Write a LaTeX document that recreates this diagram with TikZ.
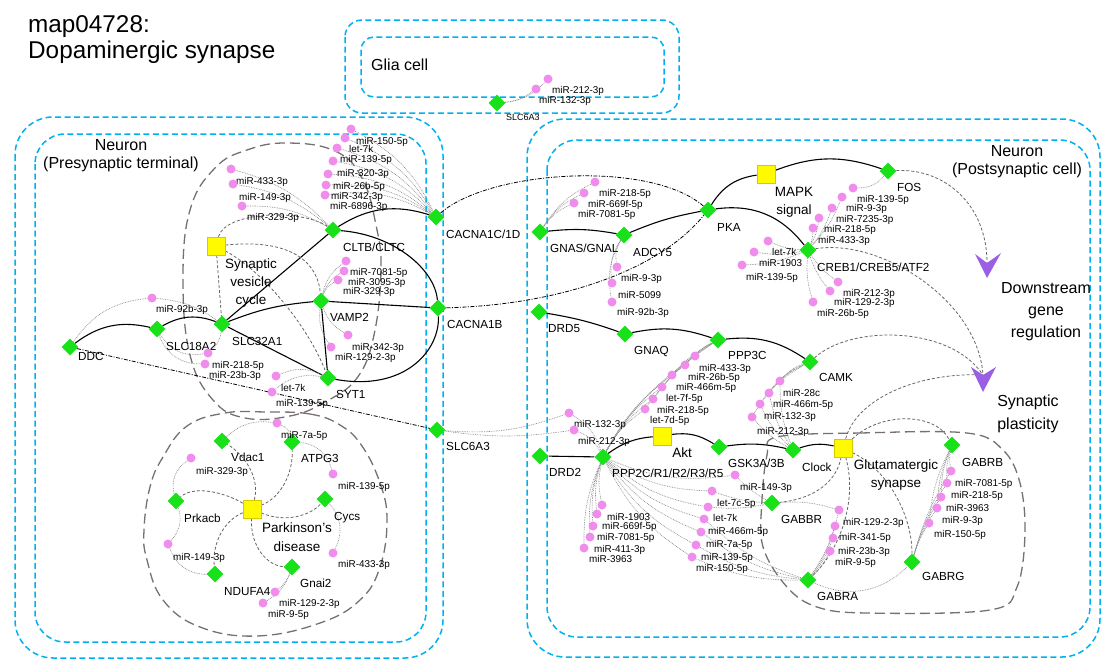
\documentclass[tikz,border=0pt]{standalone}
\usepackage{fontspec}
\setmainfont{Liberation Sans}
\usetikzlibrary{shapes.geometric,calc}
\pgfdeclarelayer{bg}
\pgfsetlayers{bg,main}
\definecolor{cellblue}{RGB}{0,176,240}
\definecolor{genegreen}{RGB}{25,225,25}
\definecolor{mirpink}{RGB}{240,140,235}
\definecolor{sqyellow}{RGB}{255,250,0}
\definecolor{sqedge}{RGB}{215,200,0}
\definecolor{arrpurple}{RGB}{155,95,230}
\definecolor{dotgray}{RGB}{140,140,140}
\definecolor{dashgray}{RGB}{105,100,100}
\definecolor{elgray}{RGB}{120,112,112}
\begin{document}
\begin{tikzpicture}[x=1pt,y=-1pt,
 gene/.style={diamond,fill=genegreen,inner sep=0pt,minimum width=17pt,minimum height=17pt},
 mir/.style={circle,fill=mirpink,inner sep=0pt,minimum size=9pt},
 ysq/.style={rectangle,fill=sqyellow,draw=sqedge,line width=0.6pt,minimum size=18pt,inner sep=0pt},
 glab/.style={font=\fontsize{11.7}{13}\selectfont,inner sep=0pt,anchor=west,text height=8.4pt,text depth=0pt},
 mlab/.style={font=\fontsize{9.9}{11}\selectfont,inner sep=0pt,anchor=west,text height=7pt,text depth=0pt},
 ylab/.style={font=\fontsize{13.5}{18}\selectfont,inner sep=0pt,align=center},
 blab/.style={font=\fontsize{16}{18}\selectfont,inner sep=0pt,align=center},
 ttl/.style={font=\fontsize{24.3}{28}\selectfont,inner sep=0pt,anchor=west,text height=17.4pt,text depth=0pt},
 sol/.style={black,line width=1.1pt},
 ddot/.style={black,line width=0.8pt,dash pattern=on 4pt off 1.5pt on 1pt off 1.5pt},
 gdash/.style={dashgray,line width=0.8pt,dash pattern=on 3pt off 2pt},
 ldash/.style={elgray,line width=1.3pt,dash pattern=on 10pt off 5pt},
 dotl/.style={dotgray,line width=0.65pt,dash pattern=on 0.8pt off 0.9pt},
 cellbox/.style={cellblue,line width=1.5pt,dash pattern=on 6pt off 3.5pt}
]
\useasboundingbox (0,0) rectangle (1101,659);

% ---------- titles and compartment labels
\node[ttl] (title1) at (28,24) {map04728:};
\node[ttl] (title2) at (28,50) {Dopaminergic synapse};
\node[blab,anchor=west,text height=11.5pt,text depth=0pt] (lglia) at (371,65) {Glia cell};
\node[blab] (lpre) at (121,156) {Neuron\\(Presynaptic terminal)};
\node[blab] (lpost) at (1017,162) {Neuron\\(Postsynaptic cell)};
\node[blab,font=\fontsize{16}{22}\selectfont] (ldown) at (1046,312) {Downstream\\gene\\regulation};
\node[blab,font=\fontsize{16}{23}\selectfont] (lsyn) at (1028,414) {Synaptic\\plasticity};

% ---------- gene nodes (left neuron)
\node[gene] (ddc) at (70,347) {};
\node[gene] (slc18a2) at (157,329) {};
\node[gene] (slc32a1) at (222,324) {};
\node[gene] (cltb) at (333,230) {};
\node[gene] (vamp2) at (321,301) {};
\node[gene] (syt1) at (328,378) {};
\node[gene] (cac1d) at (436,217) {};
\node[gene] (cac1b) at (438,308) {};
\node[gene] (slcL) at (437,430) {};
\node[ysq] (svc) at (216,246) {};
\node[ysq] (pd) at (252,509) {};
\node[gene] (vdac1) at (222,441) {};
\node[gene] (atpg3) at (292,442) {};
\node[gene] (prkacb) at (176,501) {};
\node[gene] (cycs) at (325,499) {};
\node[gene] (ndufa4) at (215,574) {};
\node[gene] (gnai2) at (292,567) {};
% glia
\node[gene] (slcG) at (497,103) {};
% right neuron
\node[gene] (gnas) at (540,232) {};
\node[gene] (adcy5) at (624,235) {};
\node[gene] (pka) at (708,210) {};
\node[ysq] (mapk) at (766,174) {};
\node[gene] (fos) at (888,171) {};
\node[gene] (creb) at (808,250) {};
\node[gene] (drd5) at (539,312) {};
\node[gene] (gnaq) at (625,334) {};
\node[gene] (ppp3c) at (718,340) {};
\node[gene] (camk) at (810,362) {};
\node[gene] (drd2) at (540,456) {};
\node[gene] (ppp2c) at (603,457) {};
\node[ysq] (akt) at (662,436) {};
\node[gene] (gsk3) at (719,447) {};
\node[gene] (clock) at (793,450) {};
\node[ysq] (glut) at (843,448) {};
\node[gene] (gabrb) at (952,445) {};
\node[gene] (gabbr) at (772,503) {};
\node[gene] (gabra) at (808,580) {};
\node[gene] (gabrg) at (912,562) {};

% ---------- gene labels
\node[glab] (lddc) at (78,356) {DDC};
\node[glab] (lslc18a2) at (166,346) {SLC18A2};
\node[glab] (lslc32a1) at (232,341) {SLC32A1};
\node[glab] (lcltb) at (343,247) {CLTB/CLTC};
\node[glab] (lvamp2) at (330,317) {VAMP2};
\node[glab] (lsyt1) at (336,394) {SYT1};
\node[glab] (lcac1d) at (446,234) {CACNA1C/1D};
\node[glab] (lcac1b) at (447,324) {CACNA1B};
\node[glab] (lslcL) at (446,446) {SLC6A3};
\node[glab] (lvdac1) at (231,457) {Vdac1};
\node[glab] (latpg3) at (301,458) {ATPG3};
\node[glab] (lprkacb) at (184,518) {Prkacb};
\node[glab] (lcycs) at (334,516) {Cycs};
\node[glab] (lndufa4) at (224,591) {NDUFA4};
\node[glab] (lgnai2) at (300,583) {Gnai2};
\node[glab,font=\fontsize{9}{10}\selectfont,text height=6.5pt] (lslcG) at (506,117) {SLC6A3};
\node[glab] (lgnas) at (550,248) {GNAS/GNAL};
\node[glab] (ladcy5) at (633,252) {ADCY5};
\node[glab] (lpka) at (717,227) {PKA};
\node[glab] (lfos) at (897,187) {FOS};
\node[glab] (lcreb) at (817,267) {CREB1/CREB5/ATF2};
\node[glab] (ldrd5) at (548,328) {DRD5};
\node[glab] (lgnaq) at (634,350) {GNAQ};
\node[glab] (lppp3c) at (728,355) {PPP3C};
\node[glab] (lcamk) at (819,377) {CAMK};
\node[glab] (ldrd2) at (549,472) {DRD2};
\node[glab] (lppp2c) at (612,473) {PPP2C/R1/R2/R3/R5};
\node[glab] (lgsk3) at (728,463) {GSK3A/3B};
\node[glab] (lclock) at (802,467) {Clock};
\node[glab] (lgabrb) at (962,462) {GABRB};
\node[glab] (lgabbr) at (781,519) {GABBR};
\node[glab] (lgabra) at (817,596) {GABRA};
\node[glab] (lgabrg) at (922,576) {GABRG};
% pathway (yellow) labels
\node[ylab] (lsvc) at (251,283) {Synaptic\\vesicle\\cycle};
\node[ylab,font=\fontsize{13.5}{19}\selectfont] (lpd) at (297,537) {Parkinson's\\disease};
\node[ylab] (lmapk) at (794,202) {MAPK\\signal};
\node[ylab] (lakt) at (682,453) {Akt};
\node[ylab] (lglut) at (896,475) {Glutamatergic\\synapse};

% ---------- miRNA nodes
\foreach \n/\cx/\cy/\lx/\ly/\t in {
cA1/351/129/356/141/miR-150-5p, cA2/345/138/349/149/let-7k, cA3/337/148/340/159/miR-139-5p,
cA4/333/161/337/173/miR-320-3p, cA5/328/174/333/186/miR-26b-5p, cA6/326/185/331/196/miR-342-3p,
cA7/325/195/330/206/miR-6896-3p,
cB1/231/169/236/181/miR-433-3p, cB2/233/184/239/197/miR-149-3p, cB3/242/206/247/217/miR-329-3p,
cV1/346/261/350/272/miR-7081-5p, cV2/344/271/348/282/miR-3095-3p, cV3/338/280/343/291/miR-329-3p,
cV4/348/335/352/347/miR-342-3p, cV5/331/347/335/357/miR-129-2-3p,
cS1/276/376/281/388/let-7k, cS2/272/392/276/403/miR-139-5p,
cL1/152/298/156/309/miR-92b-3p, cL2/208/353/212/365/miR-218-5p, cL3/205/364/209/375/miR-23b-3p,
p1/277/423/281/435/miR-7a-5p, p2/191/458/196/471/miR-329-3p, p3/333/474/338/486/miR-139-5p,
p4/333/553/338/564/miR-433-3p, p5/168/544/173/557/miR-149-3p, p6/275/592/279/603/miR-129-2-3p,
p7/263/603/268/614/miR-9-5p,
g1/548/79/552/90/miR-212-3p, g2/536/89/539/100/miR-132-3p,
n1/595/182/599/193/miR-218-5p, n2/584/193/588/204/miR-669f-5p, n3/574/203/578/214/miR-7081-5p,
a1/617/267/621/278/miR-9-3p, a2/612/283/618/295/miR-5099, a3/612/302/617/312/miR-92b-3p,
f1/853/188/857/199/miR-139-5p,
r1/842/197/846/208/miR-9-3p, r2/832/208/836/219/miR-7235-3p, r3/819/218/824/229/miR-218-5p,
r4/813/228/818/240/miR-433-3p, r5/768/241/772/252/let-7k, r6/754/252/759/263/miR-1903,
r7/742/265/746/277/miR-139-5p, r8/838/282/843/293/miR-212-3p, r9/830/291/834/302/miR-129-2-3p,
r10/813/302/817/313/miR-26b-5p,
q1/695/356/699/368/miR-433-3p, q2/685/365/688/377/miR-26b-5p, q3/672/375/676/387/miR-466m-5p,
q4/662/387/666/398/let-7f-5p, q5/653/399/657/410/miR-218-5p, q6/645/409/650/420/let-7d-5p,
s1/569/413/574/424/miR-132-3p, s2/574/430/578/441/miR-212-3p,
k1/780/381/783/393/miR-28c, k2/769/393/773/404/miR-466m-5p, k3/760/404/764/416/miR-132-3p,
k4/752/417/757/431/miR-212-3p,
u1/602/505/607/517/miR-1903, u2/597/514/602/526/miR-669f-5p, u3/593/526/597/537/miR-7081-5p,
u4/590/537/594/549/miR-411-3p, u5/584/548/589/559/miR-3963,
w1/735/475/740/487/miR-149-3p, w2/712/491/717/503/let-7c-5p, w3/708/507/713/518/let-7k,
w4/704/519/708/531/miR-466m-5p, w5/701/532/706/544/miR-7a-5p, w6/696/545/701/557/miR-139-5p,
w7/692/557/696/568/miR-150-5p,
x1/839/510/843/522/miR-129-2-3p, x2/835/526/839/537/miR-341-5p, x3/833/538/838/551/miR-23b-3p,
x4/830/551/835/562/miR-9-5p,
y1/951/471/955/483/miR-7081-5p, y2/947/483/951/495/miR-218-5p, y3/941/497/946/508/miR-3963,
y4/937/508/942/520/miR-9-3p, y5/929/523/934/534/miR-150-5p}{
  \node[mir] (\n) at (\cx,\cy) {};
  \node[mlab] (t\n) at (\lx,\ly) {\t};
}

% ---------- outcome arrowheads
\coordinate (arrA) at (987,263);
\coordinate (arrB) at (983,375);
\fill[arrpurple] ($(arrA)+(-12,-9)$) -- (arrA) -- ($(arrA)+(14,-10)$) -- ($(arrA)+(0,15)$) -- cycle;
\fill[arrpurple] ($(arrB)+(-12,-8)$) -- (arrB) -- ($(arrB)+(13,-8)$) -- ($(arrB)+(0,17)$) -- cycle;

\begin{pgfonlayer}{bg}
% compartments
\draw[cellbox,rounded corners=17pt] (345,20) rectangle (679,113);
\draw[cellbox,rounded corners=13pt] (361,37) rectangle (664,97);
\draw[cellbox,rounded corners=38pt] (15,117) rectangle (443,658);
\draw[cellbox,rounded corners=30pt] (35,134) rectangle (426,642);
\draw[cellbox,rounded corners=38pt] (527,119) rectangle (1100,657);
\draw[cellbox,rounded corners=30pt] (547,140) rectangle (1090,637);
% pathway outlines
\draw[ldash] plot[smooth cycle,tension=0.7] coordinates {(287,143) (335,151) (362,178) (376,225) (381,270) (374,335) (357,378) (325,402) (290,416) (245,418) (213,400) (190,355) (183,280) (190,210) (215,168) (247,150)};
\draw[ldash] plot[smooth cycle,tension=0.7] coordinates {(266,412) (310,414) (340,425) (362,446) (380,483) (387,520) (380,567) (360,600) (320,623) (257,636) (200,627) (163,600) (147,560) (144,530) (150,487) (163,457) (187,426) (225,413)};
\draw[ldash] plot[smooth cycle,tension=0.6] coordinates {(777,437) (860,433) (967,433) (1003,450) (1020,483) (1025,533) (1017,587) (990,610) (867,613) (817,607) (787,587) (763,547) (762,500) (767,455)};

% solid relations
\draw[sol] (ddc) to[bend left=25] (slc18a2);
\draw[sol] (slc18a2) to[bend left=25] (slc32a1);
\draw[sol] (slc32a1) -- (cltb);
\draw[sol] (slc32a1) to[bend left=8] (vamp2);
\draw[sol] (slc32a1) -- (syt1);
\draw[sol] (vamp2) -- (syt1);
\draw[sol] (vamp2) -- (cac1b);
\draw[sol] (cltb) to[bend left=25] (cac1d);
\draw[sol] (cltb) .. controls (395,235) and (435,270) .. (cac1b);
\draw[sol] (syt1) .. controls (405,392) and (440,350) .. (cac1b);
\draw[sol] (gnas) to[bend left=8] (adcy5);
\draw[sol] (adcy5) to[bend left=6] (pka);
\draw[sol] (pka) to[bend left=25] (mapk);
\draw[sol] (mapk) to[bend left=20] (fos);
\draw[sol] (pka) to[bend left=30] (creb);
\draw[sol] (drd5) to[bend left=5] (gnaq);
\draw[sol] (gnaq) to[bend left=15] (ppp3c);
\draw[sol] (ppp3c) to[bend left=20] (camk);
\draw[sol] (drd2) -- (ppp2c);
\draw[sol] (ppp2c) to[bend left=15] (akt);
\draw[sol] (akt) to[bend left=20] (gsk3);
\draw[sol] (gsk3) to[bend left=10] (clock);
\draw[sol] (clock) to[bend left=15] (glut);

% dash-dot relations
\draw[ddot] (ddc) -- (slcL);
\draw[ddot] (cac1d) .. controls (490,170) and (650,160) .. (pka);
\draw[ddot] (cac1b) .. controls (560,305) and (660,270) .. (pka);

% dashed pathway links
\draw[gdash] (svc) .. controls (225,212) and (300,208) .. (cltb);
\draw[gdash] (svc) .. controls (295,238) and (318,265) .. (vamp2);
\draw[gdash] (svc) .. controls (265,272) and (310,330) .. (syt1);
\draw[gdash] (svc) -- (slc32a1);
\draw[gdash] (pd) .. controls (260,478) and (245,455) .. (vdac1);
\draw[gdash] (pd) .. controls (282,497) and (293,472) .. (atpg3);
\draw[gdash] (pd) .. controls (285,523) and (310,516) .. (cycs);
\draw[gdash] (pd) .. controls (250,547) and (268,566) .. (gnai2);
\draw[gdash] (pd) .. controls (225,520) and (212,542) .. (ndufa4);
\draw[gdash] (pd) .. controls (228,494) and (195,484) .. (prkacb);
\draw[gdash] (fos) .. controls (945,168) and (987,205) .. (arrA);
\draw[gdash] (creb) .. controls (880,238) and (978,300) .. (arrB);
\draw[gdash] (camk) .. controls (850,325) and (950,325) .. (arrB);
\draw[gdash] (glut) .. controls (858,395) and (925,372) .. (arrB);
\draw[gdash] (glut) .. controls (880,412) and (935,412) .. (gabrb);
\draw[gdash] (glut) .. controls (858,500) and (840,550) .. (gabra);
\draw[gdash] (glut) .. controls (888,470) and (912,515) .. (gabrg);
\draw[gdash] (glut) .. controls (835,488) and (805,500) .. (gabbr);

% dotted miRNA links
\foreach \m in {cA1,cA2,cA3,cA4,cA5,cA6,cA7} \draw[dotl] (\m) to[bend left=18] (cac1d);
\foreach \m in {cB1,cB2,cB3} \draw[dotl] (\m) to[bend left=15] (cltb);
\foreach \m in {cV1,cV2,cV3} \draw[dotl] (\m) to[bend right=20] (vamp2);
\foreach \m in {cV4,cV5} \draw[dotl] (\m) to[bend left=20] (vamp2);
\foreach \m in {cS1,cS2} \draw[dotl] (\m) to[bend left=25] (syt1);
\draw[dotl] (ddc) to[bend left=25] (cL1);
\draw[dotl] (cL1) to[bend left=15] (slc32a1);
\draw[dotl] (slc18a2) to[bend right=35] (cL2);
\draw[dotl] (slc18a2) to[bend right=35] (cL3);
\draw[dotl] (cL2) to[bend right=20] (slc32a1);
\draw[dotl] (p1) to[bend right=25] (vdac1);
\draw[dotl] (p1) to[bend left=25] (atpg3);
\draw[dotl] (p2) to[bend right=35] (prkacb);
\draw[dotl] (p5) to[bend right=30] (prkacb);
\draw[dotl] (p5) to[bend right=35] (ndufa4);
\draw[dotl] (p3) to[bend right=35] (atpg3);
\draw[dotl] (p4) to[bend right=35] (cycs);
\draw[dotl] (p6) to[bend right=15] (gnai2);
\draw[dotl] (p7) to[bend right=20] (gnai2);
\draw[dotl] (slcG) to[bend right=20] (g1);
\draw[dotl] (slcG) to[bend right=15] (g2);
\foreach \m in {n1,n2,n3} \draw[dotl] (\m) to[bend right=15] (gnas);
\foreach \m in {a1,a2,a3} \draw[dotl] (\m) to[bend left=20] (adcy5);
\draw[dotl] (f1) to[bend right=25] (fos);
\foreach \m in {r1,r2,r3,r4} \draw[dotl] (\m) to[bend left=10] (creb);
\foreach \m in {r5,r6,r7} \draw[dotl] (\m) to[bend right=10] (creb);
\foreach \m in {r8,r9,r10} \draw[dotl] (\m) to[bend left=10] (creb);
\foreach \m in {q1,q2,q3,q4,q5,q6} {
  \draw[dotl] (\m) to[bend left=10] (ppp3c);
  \draw[dotl] (ppp2c) to[bend left=12] (\m);
}
\draw[dotl] (slcL) to[bend right=12] (s1);
\draw[dotl] (slcL) to[bend right=8] (s2);
\foreach \m in {s1,s2} \draw[dotl] (\m) to[bend left=20] (ppp2c);
\foreach \m in {k1,k2,k3,k4} {
  \draw[dotl] (\m) to[bend left=15] (camk);
  \draw[dotl] (\m) to[bend right=10] (clock);
}
\foreach \m in {u1,u2,u3,u4,u5} \draw[dotl] (\m) to[bend left=12] (ppp2c);
\foreach \m in {w1,w2,w3,w4,w5,w6,w7} \draw[dotl] (ppp2c) to[bend right=15] (\m);
\foreach \m in {w1,w2,w3} \draw[dotl] (\m) to[bend right=8] (gabbr);
\foreach \m in {w4,w5,w6,w7} \draw[dotl] (\m) to[bend right=12] (gabra);
\draw[dotl] (gabbr) to[bend left=10] (x1);
\foreach \m in {x1,x2,x3,x4} \draw[dotl] (gabra) to[bend right=10] (\m);
\foreach \m in {y1,y2,y3,y4,y5} {
  \draw[dotl] (gabrb) to[bend right=10] (\m);
  \draw[dotl] (\m) to[bend right=8] (gabrg);
}
\draw[dotl] (gabra) to[bend right=35] (gabrg);
\end{pgfonlayer}
\end{tikzpicture}
\end{document}
